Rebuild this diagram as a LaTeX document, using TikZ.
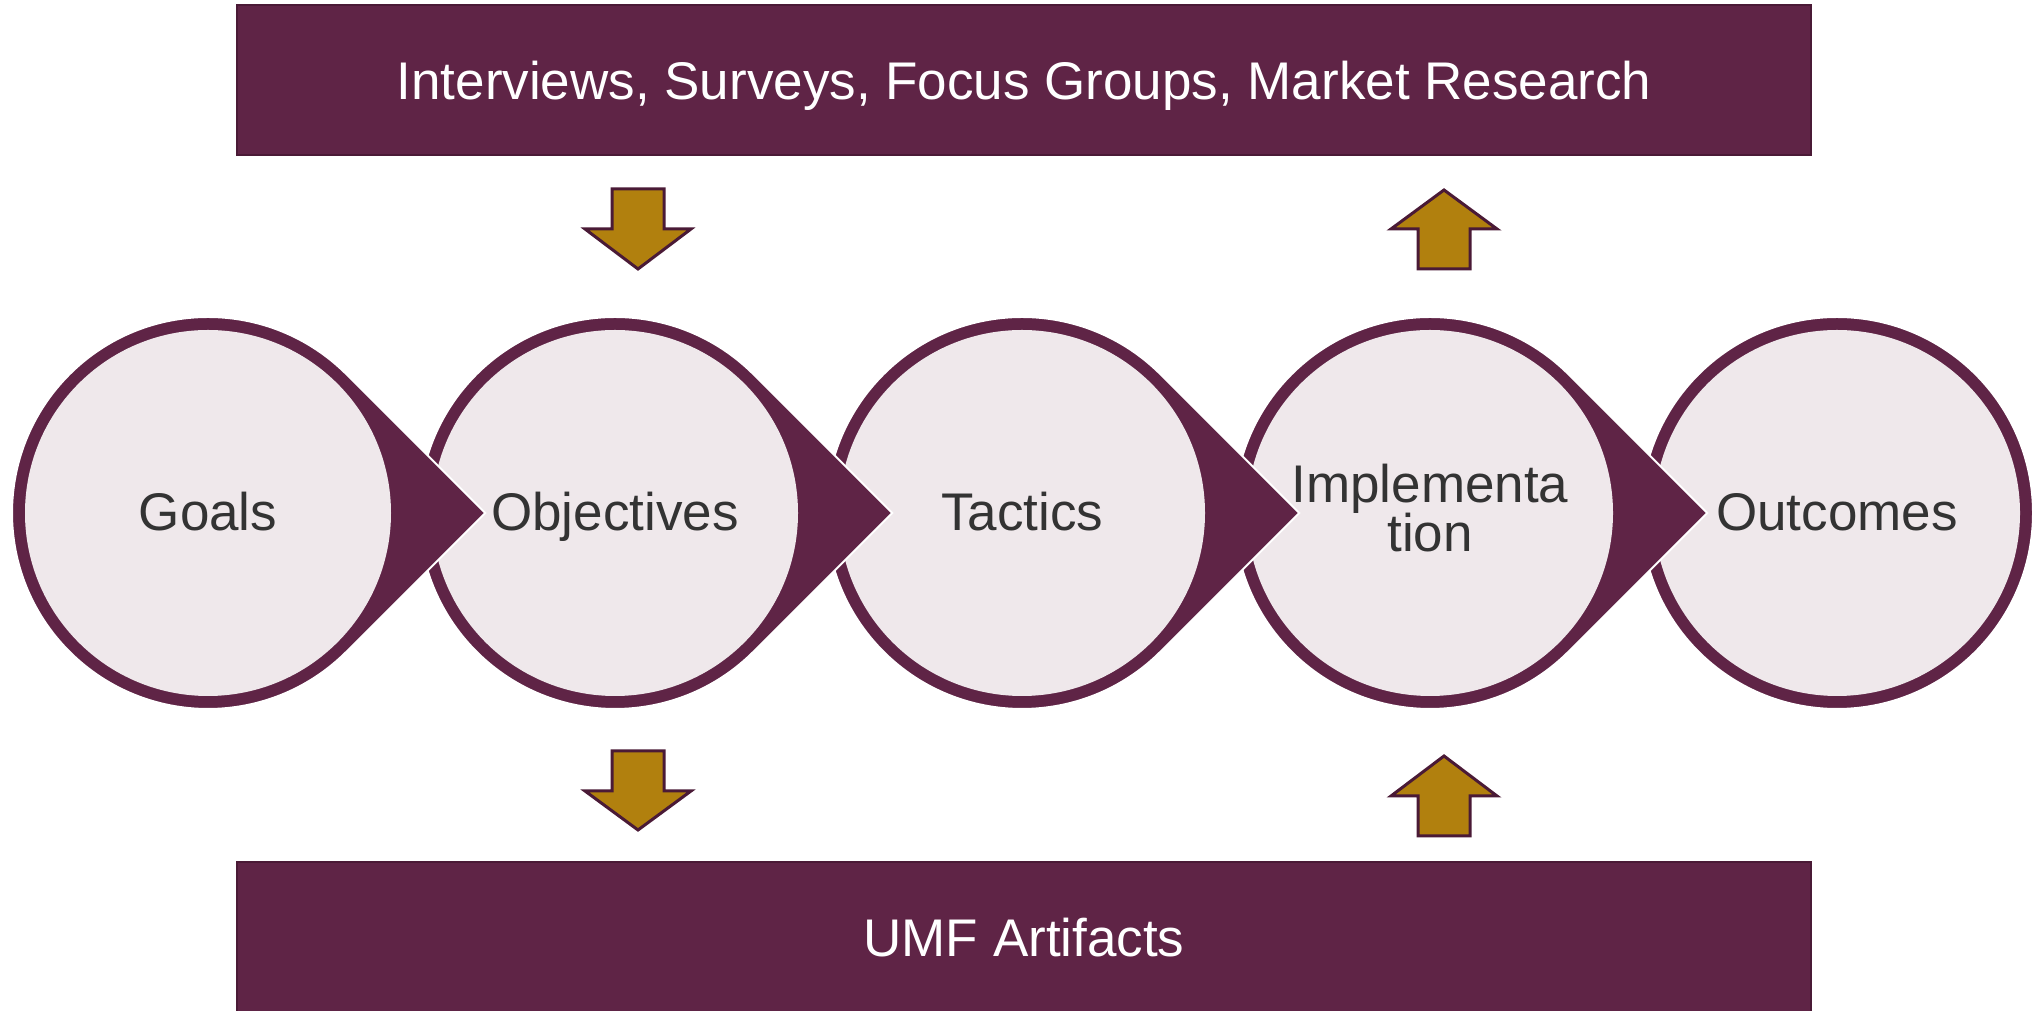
\documentclass[tikz,border=0pt]{standalone}
\usepackage{fontspec}
\setmainfont{Liberation Sans}
\definecolor{plum}{RGB}{95,36,70}
\definecolor{plumdark}{RGB}{74,26,54}
\definecolor{blush}{RGB}{239,232,235}
\definecolor{goldfill}{RGB}{177,128,14}
\definecolor{ink}{RGB}{51,51,51}
\begin{document}
\begin{tikzpicture}[x=0.5pt,y=0.5pt,
  band/.style={fill=plum,draw=plumdark,line width=1pt},
  goldarrow/.style={fill=goldfill,draw=plumdark,line width=1.5pt,line join=miter},
  drop/.style={fill=plum,draw=white,line width=1pt},
  disc/.style={fill=blush},
  steptext/.style={anchor=base,inner sep=0pt,text=ink,font=\fontsize{26.5}{30}\selectfont},
  bandtext/.style={anchor=base,inner sep=0pt,text=white,font=\fontsize{26.5}{30}\selectfont}]
\useasboundingbox (0,0) rectangle (2033,1011);
% bands
\path[band] (237,856) rectangle (1811,1006);
\path[band] (237,-2) rectangle (1811,149);
% last circle
\path[drop] (1837,498) circle[radius=196];
\path[disc] (1837,498) circle[radius=183];
% teardrop circles, right to left
\foreach \cx in {1430,1022,615,208} {
  \path[drop] ({\cx+277.2},498) -- ({\cx+138.6},{498+138.6})
     arc[start angle=45,end angle=315,radius=196] -- cycle;
  \path[disc] (\cx,498) circle[radius=183];
}
% texts
\node[bandtext] (research) at (1024,911) {Interviews, Surveys, Focus Groups, Market Research};
\node[bandtext] (artifacts) at (1024,54) {UMF Artifacts};
\node[steptext] (goals) at (208,480) {Goals};
\node[steptext] (objectives) at (615,480) {Objectives};
\node[steptext] (tactics) at (1022,480) {Tactics};
\node[steptext] (impl1) at (1430,508) {Implementa};
\node[steptext] (impl2) at (1430,459) {tion};
\node[steptext] (outcomes) at (1837,480) {Outcomes};
% gold arrows
\path[goldarrow] (612,822) -- (664,822) -- (664,782) -- (691,782) -- (638,742) -- (585,782) -- (612,782) -- cycle;
\path[goldarrow] (1418,742) -- (1470,742) -- (1470,782) -- (1497,782) -- (1444,821) -- (1391,782) -- (1418,782) -- cycle;
\path[goldarrow] (612,260) -- (664,260) -- (664,220) -- (691,220) -- (638,181) -- (585,220) -- (612,220) -- cycle;
\path[goldarrow] (1418,175) -- (1470,175) -- (1470,215) -- (1497,215) -- (1444,255) -- (1391,215) -- (1418,215) -- cycle;
\end{tikzpicture}
\end{document}
